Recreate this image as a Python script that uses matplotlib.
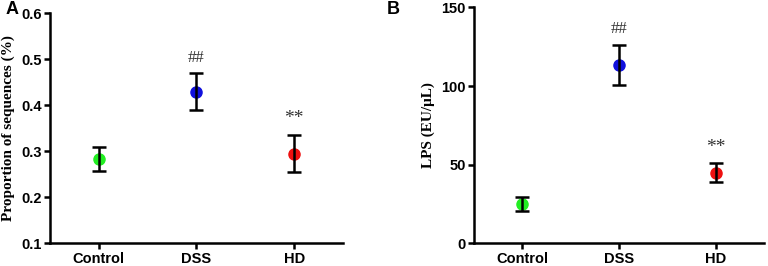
import matplotlib
matplotlib.use("Agg")
import matplotlib.pyplot as plt

categories = ["Control", "DSS", "HD"]
colors = ["#22ee22", "#1010dd", "#ee1010"]

prop_mean = [0.283, 0.430, 0.295]
prop_err = [0.026, 0.040, 0.040]
prop_marks = ["", "##", "**"]
prop_mark_y = [None, 0.503, 0.372]

lps_mean = [25, 113.5, 45]
lps_err = [4.5, 12.8, 6.0]
lps_marks = ["", "##", "**"]
lps_mark_y = [None, 136, 61]

fig = plt.figure(figsize=(7.68, 2.66), dpi=100)
axA = fig.add_axes([0.0651, 0.0853, 0.3815, 0.8647])
axB = fig.add_axes([0.617, 0.0853, 0.378, 0.887])

sans = "Liberation Sans"
serif = "Liberation Serif"

def draw(ax, mean, err, marks, mark_y, ylim, yticks, ylabel, letter, letter_xy):
    x = list(range(len(categories)))
    for i in x:
        ax.plot(x[i], mean[i], "o", color=colors[i], markersize=8, zorder=2)
        ax.errorbar(x[i], mean[i], yerr=err[i], fmt="none", ecolor="black",
                    elinewidth=1.8, capsize=5, capthick=1.8, zorder=3)
        if marks[i]:
            fs = 12 if marks[i] == "##" else 14
            ax.text(x[i], mark_y[i], marks[i], ha="center", va="center",
                    fontsize=fs, family=serif, color="#333333")
    ax.set_xlim(-0.5, 2.5)
    ax.set_ylim(*ylim)
    ax.set_yticks(yticks)
    ax.set_xticks(x)
    ax.set_xticklabels(categories, fontsize=10.5, fontweight="bold", family=sans)
    for lab in ax.get_yticklabels():
        lab.set_fontsize(10.5)
        lab.set_fontweight("bold")
        lab.set_family(sans)
    ax.spines["top"].set_visible(False)
    ax.spines["right"].set_visible(False)
    for s in ("left", "bottom"):
        ax.spines[s].set_linewidth(1.8)
    ax.tick_params(direction="out", length=4, width=1.8, pad=2)
    ax.set_ylabel(ylabel, fontsize=11, fontweight="bold", family=serif, labelpad=4)
    fig.text(letter_xy[0], letter_xy[1], letter, fontsize=13, fontweight="bold",
             family=sans, ha="left", va="top")

draw(axA, prop_mean, prop_err, prop_marks, prop_mark_y, (0.1, 0.6),
     [0.1, 0.2, 0.3, 0.4, 0.5, 0.6], "Proportion of sequences (%)", "A", (0.007, 0.995))
draw(axB, lps_mean, lps_err, lps_marks, lps_mark_y, (0, 150),
     [0, 50, 100, 150], "LPS (EU/μL)", "B", (0.503, 0.995))

fig.savefig("out.png", dpi=100)
